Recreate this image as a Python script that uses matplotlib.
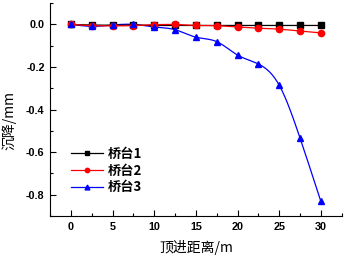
"""
Abutment settlement vs jacking distance
"""

import numpy as np
import matplotlib
matplotlib.use("Agg")
import matplotlib.pyplot as plt
from matplotlib.ticker import MultipleLocator

distance = [0, 2.5, 5, 7.5, 10, 12.5, 15, 17.5, 20, 22.5, 25, 27.5, 30]
abutment1 = [0, -0.003, -0.004, -0.003, -0.005, -0.005, -0.005, -0.005, -0.005,
             -0.005, -0.005, -0.005, -0.005]
abutment2 = [0, -0.006, -0.007, -0.006, -0.001, 0, -0.005, -0.006, -0.012,
             -0.018, -0.022, -0.031, -0.04]
abutment3 = [0, -0.009, -0.003, 0, -0.012, -0.025, -0.06, -0.081, -0.144,
             -0.186, -0.285, -0.533, -0.83]
labels = ["桥台1", "桥台2", "桥台3"]

NUM_FONT = "Liberation Sans"
CJK_FONT = ["Noto Sans CJK SC", "DejaVu Sans"]


def natural_spline(x, y, n=300):
    # plain natural cubic spline, only used to draw the smooth line
    x, y = np.asarray(x, float), np.asarray(y, float)
    m = len(x)
    h = np.diff(x)
    A = np.zeros((m, m))
    b = np.zeros(m)
    A[0, 0] = A[-1, -1] = 1
    for i in range(1, m - 1):
        A[i, i - 1] = h[i - 1]
        A[i, i] = 2 * (h[i - 1] + h[i])
        A[i, i + 1] = h[i]
        b[i] = 3 * ((y[i + 1] - y[i]) / h[i] - (y[i] - y[i - 1]) / h[i - 1])
    c = np.linalg.solve(A, b)
    xs = np.linspace(x[0], x[-1], n)
    idx = np.clip(np.searchsorted(x, xs) - 1, 0, m - 2)
    dx = xs - x[idx]
    hi = h[idx]
    bb = (y[idx + 1] - y[idx]) / hi - hi * (2 * c[idx] + c[idx + 1]) / 3
    dd = (c[idx + 1] - c[idx]) / (3 * hi)
    return xs, y[idx] + bb * dx + c[idx] * dx ** 2 + dd * dx ** 3


fig = plt.figure(figsize=(3.44, 2.59), dpi=100)
ax = fig.add_axes([0.146, 0.166, 0.847, 0.822])

ax.plot(distance, abutment1, color="black", lw=0.9, marker="s", ms=4,
        label=labels[0], zorder=3)
ax.plot(distance, abutment2, color="red", lw=0.9, marker="o", ms=4.5,
        label=labels[1], zorder=4)
sx, sy = natural_spline(distance, abutment3)
ax.plot(sx, sy, color="blue", lw=0.9, zorder=2)
ax.plot(distance, abutment3, color="blue", lw=0, marker="^", ms=5, zorder=5)
ax.plot([], [], color="blue", lw=0.9, marker="^", ms=5, label=labels[2])

ax.set_xlim(-2.5, 32.5)
ax.set_ylim(-0.9, 0.1)
ax.xaxis.set_major_locator(MultipleLocator(5))
ax.xaxis.set_minor_locator(MultipleLocator(2.5))
ax.yaxis.set_minor_locator(MultipleLocator(0.1))
ax.set_yticks([0.0, -0.2, -0.4, -0.6, -0.8])
ax.set_yticklabels(["0.0", "-0.2", "-0.4", "-0.6", "-0.8"])

for side in ("top", "right"):
    ax.spines[side].set_visible(False)
ax.tick_params(which="both", direction="in", width=0.8)
ax.tick_params(which="major", length=4, pad=4)
ax.tick_params(which="minor", length=2.5)
for t in ax.get_xticklabels() + ax.get_yticklabels():
    t.set_fontfamily(NUM_FONT)
    t.set_fontsize(7.8)
    t.set_fontweight("bold")

ax.set_xlabel("顶进距离/m", family=CJK_FONT, fontsize=10, labelpad=6)
ax.set_ylabel("沉降/mm", family=CJK_FONT, fontsize=10)
ax.yaxis.set_label_coords(-0.115, 0.45)

ax.legend(loc="center left", bbox_to_anchor=(0.071, 0.213), frameon=False,
          prop={"family": CJK_FONT, "size": 9.5, "weight": "bold"},
          borderpad=0, borderaxespad=0, markerscale=0.7,
          handlelength=2.4, handletextpad=0.4, labelspacing=0.2)

fig.savefig("out.png", dpi=100)
